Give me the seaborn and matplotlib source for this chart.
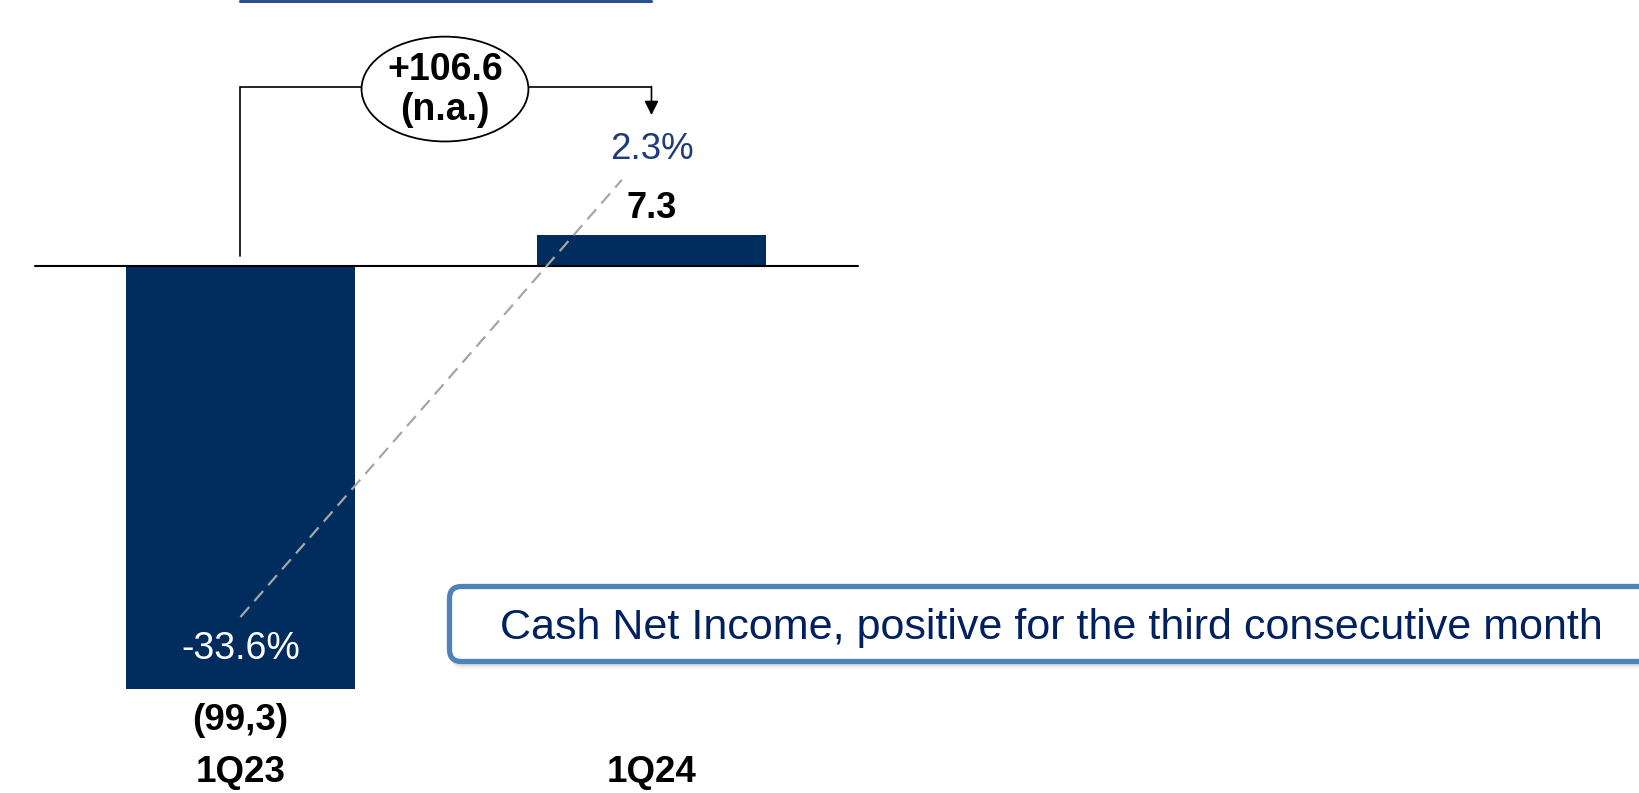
import matplotlib
matplotlib.use("Agg")
import matplotlib.pyplot as plt
import seaborn as sns
import pandas as pd
from matplotlib.patches import Ellipse, FancyBboxPatch

# ---- data ----
quarters = ["1Q23", "1Q24"]
net_income = [-99.3, 7.3]
value_labels = ["(99,3)", "7.3"]
margin_labels = ["-33.6%", "2.3%"]
change_label = "+106.6\n(n.a.)"
callout_text = "Cash Net Income, positive for the third consecutive month"

NAVY = "#002D5E"
BLUE_TXT = "#1F3A7D"
CALLOUT_TXT = "#002060"
BORDER = "#4F81BD"

sns.set_theme(style="white")
plt.rcParams["font.family"] = ["Liberation Sans", "DejaVu Sans"]

df = pd.DataFrame({"quarter": quarters, "value": net_income})

fig = plt.figure(figsize=(16.4, 7.93), dpi=100)
ax = fig.add_axes([0, 0, 1, 1])
sns.barplot(data=df, x="quarter", y="value", order=quarters, color=NAVY,
            saturation=1, width=0.557, linewidth=0, ax=ax)
ax.set_xlim(-0.585, 3.405)
ax.set_ylim(-123.7, 62.4)
ax.axis("off")

# baseline
ax.plot([-0.5, 1.502], [0, 0], color="black", lw=1.5, zorder=3)

# value labels
for i, (v, lab) in enumerate(zip(net_income, value_labels)):
    if v < 0:
        ax.annotate(lab, (i, v), xytext=(0, -23), textcoords="offset points",
                    ha="center", va="center", fontsize=26.5, fontweight="bold", color="black")
    else:
        ax.annotate(lab, (i, v), xytext=(0, 19), textcoords="offset points",
                    ha="center", va="center", fontsize=26, fontweight="bold", color="black")

# category labels
for i, q in enumerate(quarters):
    ax.text(i, -119, q, ha="center", va="center", fontsize=26.5, fontweight="bold", color="black")

# margin labels and dashed connector
ax.text(0, -89.9, margin_labels[0], ha="center", va="center", fontsize=27, color="white", zorder=4)
ax.text(1, 27.2, margin_labels[1], ha="center", va="center", fontsize=26.5, color=BLUE_TXT, zorder=4)
ax.plot([0, 0.928], [-82.4, 20.2], color="#A6A6A6", lw=1.6, ls=(0, (6, 3.5)), zorder=4)

# bracket with arrow
ax.plot([0, 0, 1], [2.35, 42, 42], color="black", lw=1.2, zorder=3, solid_joinstyle="miter")
ax.annotate("", xy=(1, 35.4), xytext=(1, 42.1),
            arrowprops=dict(arrowstyle="-|>", mutation_scale=21, lw=1.2, color="black",
                            shrinkA=0, shrinkB=0), zorder=3)
ell = Ellipse((0.4976, 41.5), width=0.406, height=24.6, facecolor="white",
              edgecolor="black", lw=1.3, zorder=5)
ax.add_patch(ell)
ax.text(0.4976, 41.3, change_label, ha="center", va="center", fontsize=27,
        fontweight="bold", color="black", linespacing=1.15, zorder=6)

# top partial underline
ax.plot([0, 1], [62.1, 62.1], color="#2E5090", lw=2.2, clip_on=False, zorder=3)

# callout box (inches coordinates)
tr = fig.dpi_scale_trans
for k, a in enumerate([0.12, 0.09, 0.06]):
    sh = FancyBboxPatch((4.50 + 0.01 * k, 1.27 - 0.015 * k), 12.5, 0.74,
                        boxstyle="round,pad=0,rounding_size=0.12",
                        transform=tr, facecolor="#808080", edgecolor="none",
                        alpha=a, zorder=6)
    fig.add_artist(sh)
box = FancyBboxPatch((4.495, 1.315), 12.5, 0.75,
                     boxstyle="round,pad=0,rounding_size=0.12",
                     transform=tr, facecolor="white", edgecolor=BORDER, lw=3.8, zorder=7)
fig.add_artist(box)
fig.text(10.515 / 16.4, 1.65 / 7.93, callout_text, ha="center", va="center",
         fontsize=31, color=CALLOUT_TXT, zorder=8)

fig.savefig("out.png", dpi=100)
